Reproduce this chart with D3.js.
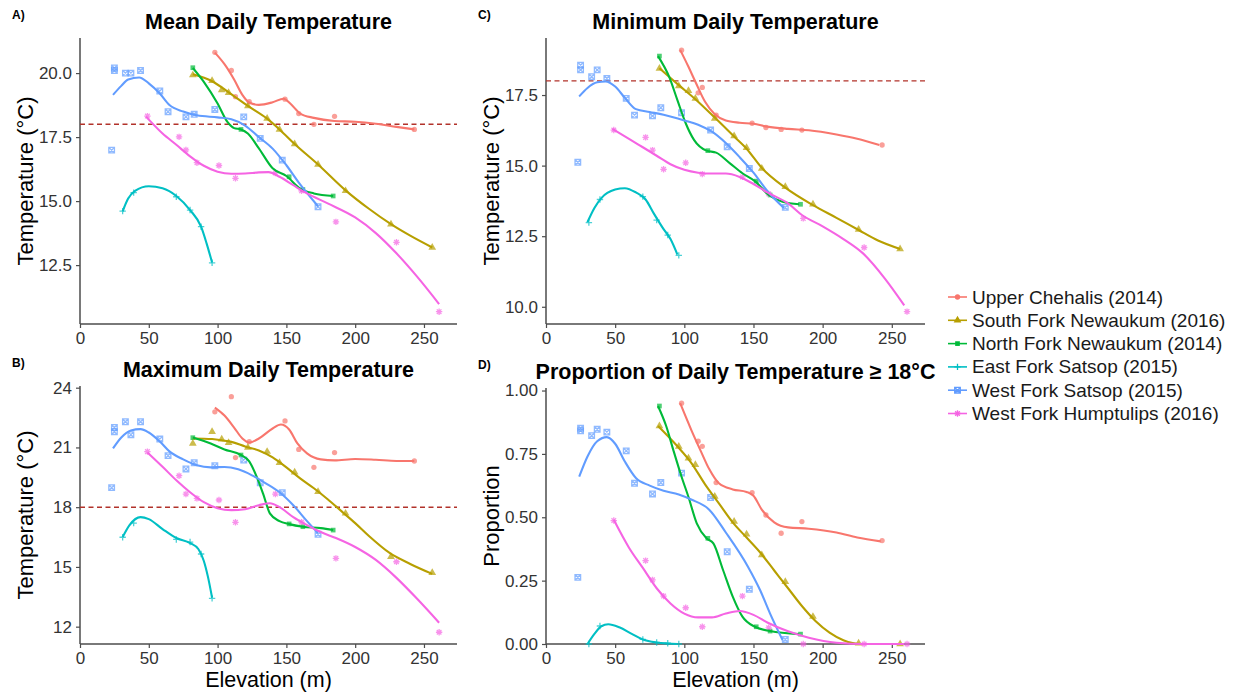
<!DOCTYPE html>
<html><head><meta charset="utf-8">
<script src="https://cdn.jsdelivr.net/npm/d3@7"></script>
<style>body{margin:0;background:#fff;} text{font-family:"Liberation Sans",Arial,sans-serif;}</style>
</head><body><svg id="c" width="1239" height="694"></svg>
<script>
// ---------- DATA ----------
const siteNames = ["Upper Chehalis (2014)","South Fork Newaukum (2016)","North Fork Newaukum (2014)","East Fork Satsop (2015)","West Fork Satsop (2015)","West Fork Humptulips (2016)"];
const xTicks = [0,50,100,150,200,250];
const yTicksMean = [12.5,15,17.5,20];
const yTicksMax = [12,15,18,21,24];
const yTicksMin = [10,12.5,15,17.5];
const yTicksProp = [0,0.25,0.5,0.75,1];
const threshold = 18;

// Upper Chehalis
const elevChehalis = [98,110,113,123,149,159,170,185,243];
const meanChehalis = [20.81,20.10,19.08,18.88,18.98,18.42,18.00,18.31,17.80];
const maxChehalis  = [22.79,23.55,20.49,21.29,22.33,20.90,20.00,20.74,20.32];
const minChehalis  = [19.09,17.58,17.77,16.79,16.50,16.35,16.28,16.26,15.73];
const propChehalis = [0.95,0.80,0.78,0.637,0.597,0.509,0.437,0.483,0.408];
const fitMeanChehalis = [[98,20.8],[105,20.35],[112,19.75],[118,19.15],[123,18.85],[130,18.76],[140,18.86],[148,19.0],[153,18.8],[160,18.42],[170,18.25],[185,18.13],[200,18.1],[215,18.02],[230,17.9],[243,17.8]];
const fitMaxChehalis = [[98,23.0],[105,22.6],[112,22.0],[118,21.45],[123,21.25],[130,21.45],[140,21.95],[146,22.15],[152,21.9],[158,21.2],[165,20.7],[175,20.4],[185,20.35],[200,20.42],[215,20.38],[230,20.32],[243,20.32]];
const fitMinChehalis = [[97,19.1],[103,18.5],[108,17.97],[115,17.26],[122,16.82],[130,16.6],[140,16.52],[150,16.48],[160,16.38],[175,16.3],[190,16.25],[210,16.1],[225,15.95],[241,15.73]];
const fitPropChehalis = [[97,0.95],[105,0.845],[112,0.76],[118,0.69],[125,0.634],[135,0.61],[145,0.6],[150,0.585],[156,0.53],[165,0.48],[175,0.46],[190,0.455],[210,0.44],[225,0.42],[242,0.405]];

// South Fork Newaukum
const elevSFN = [82,96,103,108,122,136,145,156,173,193,226,256];
const meanSFN = [19.92,19.70,19.34,19.23,18.71,18.23,17.80,17.23,16.43,15.40,14.10,13.19];
const maxSFN  = [21.2,21.79,21.41,21.24,21.0,20.79,20.23,19.75,18.78,17.69,15.51,14.71];
const minSFN  = [18.44,17.82,17.65,17.38,16.67,16.05,15.63,14.90,14.25,13.63,12.74,12.05];
const propSFN = [0.86,0.779,0.733,0.707,0.582,0.483,0.433,0.351,0.246,0.108,0.003,0.0];
const fitMeanSFN = [[82,19.95],[96,19.68],[108,19.25],[122,18.72],[136,18.22],[145,17.8],[156,17.23],[173,16.43],[193,15.42],[210,14.7],[226,14.1],[240,13.65],[256,13.19]];
const fitMaxSFN = [[82,21.45],[96,21.42],[104,21.35],[110,21.28],[120,21.05],[130,20.85],[140,20.5],[150,20.0],[160,19.45],[170,18.95],[180,18.4],[190,17.8],[200,17.2],[210,16.55],[225,15.7],[240,15.15],[256,14.65]];
const fitMinSFN = [[82,18.45],[96,17.85],[108,17.35],[122,16.7],[136,16.03],[145,15.6],[156,14.92],[173,14.22],[193,13.6],[210,13.15],[226,12.72],[240,12.35],[256,12.05]];
const fitPropSFN = [[81,0.86],[95,0.78],[105,0.715],[115,0.63],[125,0.555],[135,0.48],[145,0.42],[155,0.36],[165,0.29],[175,0.22],[185,0.15],[195,0.09],[205,0.045],[215,0.015],[228,0],[256,0]];

// North Fork Newaukum
const elevNFN = [82,117,152,162,184];
const meanNFN = [20.21,17.80,15.95,15.45,15.20];
const maxNFN  = [21.49,20.62,17.16,17.02,16.85];
const minNFN  = [18.88,15.53,14.45,13.96,13.63];
const propNFN = [0.939,0.417,0.068,0.051,0.039];
const fitMeanNFN = [[82,20.2],[90,19.66],[100,18.81],[107,18.1],[112,17.85],[117,17.8],[122,17.64],[130,17.06],[140,16.28],[150,15.98],[160,15.49],[170,15.3],[184,15.2]];
const fitMaxNFN = [[82,21.5],[95,21.2],[105,20.9],[117,20.62],[123,20.3],[128,19.6],[133,18.69],[138,17.69],[145,17.3],[152,17.15],[162,17.02],[175,16.95],[184,16.85]];
const fitMinNFN = [[81,18.88],[89,18.15],[95,17.32],[101,16.5],[107,15.91],[116,15.53],[123,15.46],[133,15.08],[142,14.73],[151,14.45],[161,13.96],[171,13.72],[183,13.63]];
const fitPropNFN = [[81,0.939],[87,0.858],[92,0.766],[98,0.66],[103,0.58],[109,0.476],[116,0.417],[121,0.397],[128,0.292],[135,0.187],[142,0.108],[151,0.068],[162,0.051],[183,0.039]];

// East Fork Satsop
const elevEFS = [31,39,70,80,88,96];
const meanEFS = [14.61,15.33,15.17,14.65,14.0,12.59];
const maxEFS  = [16.49,17.2,16.38,16.25,15.65,13.42];
const minEFS  = [12.98,13.8,13.90,13.07,12.54,11.82];
const propEFS = [0,0.071,0.018,0.006,0.003,0];
const fitMeanEFS = [[31,14.6],[35,15.1],[40,15.4],[50,15.58],[60,15.5],[70,15.2],[80,14.65],[88,14.0],[92,13.35],[96,12.6]];
const fitMaxEFS = [[31,16.5],[36,17.1],[44,17.5],[50,17.4],[60,16.9],[70,16.45],[80,16.2],[86,15.9],[90,15.3],[93,14.5],[96,13.45]];
const fitMinEFS = [[30,13.0],[35,13.5],[40,13.85],[50,14.15],[57,14.2],[65,14.05],[72,13.8],[78,13.3],[85,12.75],[90,12.4],[95,11.85]];
const fitPropEFS = [[30,0],[35,0.04],[40,0.07],[45,0.078],[53,0.066],[62,0.04],[70,0.018],[80,0.006],[88,0.002],[95,0]];

// West Fork Satsop
const elevWFS = [23,25,25,33,37,44,58,64,77,83,98,119,131,147,173];
const meanWFS = [16.99,20.2,20.1,20.0,20.0,20.1,19.3,18.49,18.29,18.39,18.58,18.29,17.45,16.6,14.78];
const maxWFS  = [18.98,22.0,21.79,22.29,21.64,22.29,21.42,20.59,19.92,20.23,20.08,20.37,19.23,18.73,16.64];
const minWFS  = [15.12,18.56,18.39,18.15,18.39,18.09,17.38,16.79,16.76,17.05,16.87,16.26,15.67,14.9,13.52];
const propWFS = [0.263,0.851,0.841,0.822,0.847,0.836,0.762,0.634,0.592,0.637,0.674,0.578,0.364,0.216,0.018];
const fitMeanWFS = [[24,19.15],[30,19.5],[35,19.75],[43,19.83],[50,19.6],[58,19.2],[65,18.75],[75,18.5],[85,18.35],[100,18.27],[110,18.2],[120,17.95],[130,17.5],[140,17.05],[150,16.4],[160,15.65],[173,14.8]];
const fitMaxWFS = [[24,20.95],[30,21.5],[37,21.85],[44,21.92],[50,21.75],[58,21.3],[65,20.8],[75,20.4],[85,20.1],[95,20.0],[105,20.02],[115,19.9],[125,19.6],[135,19.2],[145,18.75],[155,18.1],[165,17.3],[173,16.7]];
const fitMinWFS = [[24,17.45],[30,17.75],[37,17.95],[43,17.98],[50,17.8],[57,17.4],[65,17.0],[75,16.9],[85,16.8],[100,16.6],[110,16.45],[120,16.2],[130,15.8],[140,15.3],[150,14.75],[160,14.1],[172,13.5]];
const fitPropWFS = [[24,0.66],[30,0.74],[37,0.8],[44,0.816],[50,0.79],[57,0.72],[65,0.655],[75,0.625],[85,0.605],[96,0.59],[105,0.57],[118,0.53],[130,0.44],[146,0.305],[155,0.21],[162,0.12],[171,0.016]];

// West Fork Humptulips
const elevWFH = [49,72,77,85,101,113,142,161,186,230,261];
const meanWFH = [18.32,17.51,17.0,16.50,16.39,15.89,16.1,15.40,14.19,13.39,10.68];
const maxWFH  = [20.79,19.58,18.66,18.44,18.36,17.24,18.66,17.25,15.43,15.26,11.72];
const minWFH  = [16.26,16.0,15.55,14.87,15.10,14.70,14.6,14.0,13.13,12.10,9.83];
const propWFH = [0.487,0.329,0.253,0.189,0.143,0.068,0.189,0.064,0,0,0];
const fitMeanWFH = [[48,18.3],[60,17.64],[70,17.2],[80,16.75],[90,16.38],[100,16.15],[110,16.07],[120,16.08],[130,16.12],[137,16.13],[145,15.95],[155,15.62],[165,15.3],[180,14.91],[200,14.36],[215,13.75],[230,12.96],[245,12.05],[261,10.98]];
const fitMaxWFH = [[49,20.75],[60,20.03],[70,19.35],[80,18.75],[90,18.25],[100,17.95],[110,17.85],[120,17.9],[130,18.1],[138,18.2],[145,18.0],[155,17.5],[165,17.1],[175,16.75],[186,16.45],[200,16.0],[215,15.35],[230,14.45],[245,13.4],[261,12.2]];
const fitMinWFH = [[48,16.3],[60,15.95],[70,15.65],[80,15.35],[90,15.05],[100,14.85],[110,14.75],[120,14.72],[130,14.72],[140,14.6],[150,14.35],[160,14.05],[175,13.66],[185,13.25],[200,12.85],[215,12.4],[229,11.9],[245,11.0],[259,10.05]];
const fitPropWFH = [[49,0.49],[60,0.38],[70,0.3],[80,0.22],[90,0.16],[100,0.12],[110,0.105],[120,0.105],[130,0.12],[140,0.13],[150,0.115],[160,0.085],[175,0.05],[190,0.025],[210,0.005],[230,0],[259,0]];

// ---------- STYLE / LAYOUT ----------
const colors = ["#F8766D","#B79F00","#00BA38","#00BFC4","#619CFF","#F564E3"];
const shapes = ["circle","triangle","square","plus","squarex","asterisk"];

const series = [
  {elev:elevChehalis, v:{mean:meanChehalis,max:maxChehalis,min:minChehalis,prop:propChehalis}, f:{mean:fitMeanChehalis,max:fitMaxChehalis,min:fitMinChehalis,prop:fitPropChehalis}},
  {elev:elevSFN, v:{mean:meanSFN,max:maxSFN,min:minSFN,prop:propSFN}, f:{mean:fitMeanSFN,max:fitMaxSFN,min:fitMinSFN,prop:fitPropSFN}},
  {elev:elevNFN, v:{mean:meanNFN,max:maxNFN,min:minNFN,prop:propNFN}, f:{mean:fitMeanNFN,max:fitMaxNFN,min:fitMinNFN,prop:fitPropNFN}},
  {elev:elevEFS, v:{mean:meanEFS,max:maxEFS,min:minEFS,prop:propEFS}, f:{mean:fitMeanEFS,max:fitMaxEFS,min:fitMinEFS,prop:fitPropEFS}},
  {elev:elevWFS, v:{mean:meanWFS,max:maxWFS,min:minWFS,prop:propWFS}, f:{mean:fitMeanWFS,max:fitMaxWFS,min:fitMinWFS,prop:fitPropWFS}},
  {elev:elevWFH, v:{mean:meanWFH,max:maxWFH,min:minWFH,prop:propWFH}, f:{mean:fitMeanWFH,max:fitMaxWFH,min:fitMinWFH,prop:fitPropWFH}}
];

const panels = [
  {key:"mean", tag:"A)", title:"Mean Daily Temperature", x0:80, x1:457, y0:38, y1:324, yDom:[10.2,21.37], ticks:yTicksMean, fmt:d3.format(".1f"), yTitle:"Temperature (°C)", xTitle:false, thr:true},
  {key:"max", tag:"B)", title:"Maximum Daily Temperature", x0:80, x1:457, y0:386, y1:644, yDom:[11.13,24.085], ticks:yTicksMax, fmt:d3.format("d"), yTitle:"Temperature (°C)", xTitle:true, thr:true},
  {key:"min", tag:"C)", title:"Minimum Daily Temperature", x0:546, x1:925, y0:38, y1:324, yDom:[9.39,19.52], ticks:yTicksMin, fmt:d3.format(".1f"), yTitle:"Temperature (°C)", xTitle:false, thr:true},
  {key:"prop", tag:"D)", title:"Proportion of Daily Temperature \u2265 18°C", x0:546, x1:925, y0:388, y1:644, yDom:[0,1.01], ticks:yTicksProp, fmt:d3.format(".2f"), yTitle:"Proportion", xTitle:true, thr:false}
];

const svg = d3.select("#c");

function markerPath(shape){
  switch(shape){
    case "circle": return d3.symbol(d3.symbolCircle, 22)();
    case "triangle": return d3.symbol(d3.symbolTriangle, 26)();
    case "square": return d3.symbol(d3.symbolSquare, 22)();
    case "plus": return "M-3.2,0H3.2M0,-3.2V3.2";
    case "squarex": return "M-2.8,-2.8H2.8V2.8H-2.8Z M-2.8,-2.8L2.8,2.8M-2.8,2.8L2.8,-2.8";
    case "asterisk": return "M-3.2,0H3.2M0,-3.2V3.2M-2.3,-2.3L2.3,2.3M-2.3,2.3L2.3,-2.3";
  }
}
function drawMarker(g, shape, color, x, y, op){
  const filled = ["circle","triangle","square"].includes(shape);
  g.append("path").attr("d", markerPath(shape))
    .attr("transform", `translate(${x},${y})`)
    .attr("fill", filled ? color : "none")
    .attr("stroke", filled ? "none" : color)
    .attr("stroke-width", 1.3)
    .attr("opacity", op);
}

const axisColor = "#4d4d4d";
const textColor = "#333";

panels.forEach(p => {
  const x = d3.scaleLinear().domain([0,274]).range([p.x0,p.x1]);
  const y = d3.scaleLinear().domain(p.yDom).range([p.y1,p.y0]);
  const g = svg.append("g");

  // panel tag & title
  g.append("text").attr("x", p.x0 - 68).attr("y", p.y0 - 19).attr("font-size", 12).attr("font-weight", "bold").attr("fill", "#000").text(p.tag);
  g.append("text").attr("x", (p.x0+p.x1)/2).attr("y", p.y0 - 9).attr("text-anchor","middle")
    .attr("font-size", 21.5).attr("font-weight","bold").attr("fill","#000").text(p.title);

  // axes
  const xa = g.append("g").attr("transform", `translate(0,${p.y1})`)
    .call(d3.axisBottom(x).tickValues(xTicks).tickSize(4).tickPadding(4).tickSizeOuter(0));
  const ya = g.append("g").attr("transform", `translate(${p.x0},0)`)
    .call(d3.axisLeft(y).tickValues(p.ticks).tickFormat(p.fmt).tickSize(4).tickPadding(4).tickSizeOuter(0));
  [xa, ya].forEach(a => {
    a.select(".domain").attr("stroke", axisColor).attr("stroke-width", 1.5);
    a.selectAll(".tick line").attr("stroke", axisColor).attr("stroke-width", 1.2);
    a.selectAll(".tick text").attr("fill", textColor).attr("font-size", 17).attr("font-family", "Liberation Sans, Arial, sans-serif");
  });
  // make axis lines span full range
  xa.select(".domain").attr("d", `M${p.x0},0H${p.x1}`);
  ya.select(".domain").attr("d", `M0,${p.y1}V${p.y0}`);

  // axis titles
  const cx = p.x0 - 55;
  g.append("text").attr("transform", `translate(${cx},${(p.y0+p.y1)/2}) rotate(-90)`)
    .attr("text-anchor","middle").attr("dominant-baseline","central")
    .attr("font-size", 22).attr("fill","#000").text(p.yTitle);
  if (p.xTitle) {
    g.append("text").attr("x", (p.x0+p.x1)/2).attr("y", 687).attr("text-anchor","middle")
      .attr("font-size", 21.5).attr("fill","#000").text("Elevation (m)");
  }

  // threshold line
  if (p.thr) {
    g.append("line").attr("x1", p.x0).attr("x2", p.x1).attr("y1", y(threshold)).attr("y2", y(threshold))
      .attr("stroke", "#b2322a").attr("stroke-width", 1.4).attr("stroke-dasharray", "5,3.5");
  }

  // points
  const pg = g.append("g");
  series.forEach((s, i) => {
    s.elev.forEach((e, j) => drawMarker(pg, shapes[i], colors[i], x(e), y(s.v[p.key][j]), 0.7));
  });
  // fitted curves
  const line = d3.line().x(d => x(d[0])).y(d => y(d[1])).curve(d3.curveMonotoneX);
  series.forEach((s, i) => {
    g.append("path").datum(s.f[p.key]).attr("d", line)
      .attr("fill","none").attr("stroke", colors[i]).attr("stroke-width", 2.1);
  });
});

// legend
const lg = svg.append("g");
siteNames.forEach((n, i) => {
  const yy = 297 + i * 23.3;
  lg.append("line").attr("x1", 948).attr("x2", 967).attr("y1", yy).attr("y2", yy).attr("stroke", colors[i]).attr("stroke-width", 1.6);
  drawMarker(lg, shapes[i], colors[i], 957.5, yy, 1);
  lg.append("text").attr("x", 972).attr("y", yy).attr("dominant-baseline","central")
    .attr("font-size", 19).attr("fill", "#1a1a1a").text(n);
});
</script></body></html>
